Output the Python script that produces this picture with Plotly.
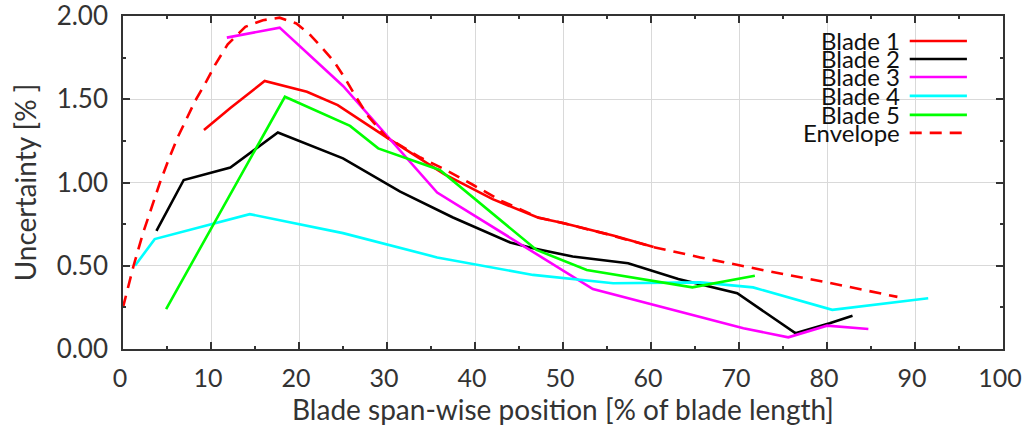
import plotly.graph_objects as go

# Uncertainty along the blade span for each blade, plus the envelope
blade1_x = [9.2, 12.2, 16.1, 20.9, 24.4, 30.0, 36.5, 42.0, 47.2, 50.0, 55.8, 60.3]
blade1_y = [1.315, 1.447, 1.61, 1.545, 1.465, 1.27, 1.05, 0.90, 0.788, 0.757, 0.68, 0.613]

blade2_x = [3.8, 6.9, 12.2, 17.6, 25.0, 31.5, 37.5, 44.0, 46.6, 51.1, 57.4, 63.1, 69.8, 76.4, 80.3, 82.9]
blade2_y = [0.71, 1.015, 1.09, 1.30, 1.145, 0.945, 0.79, 0.64, 0.605, 0.555, 0.515, 0.42, 0.335, 0.095, 0.155, 0.20]

blade3_x = [11.8, 17.8, 25.0, 30.5, 35.7, 53.4, 65.6, 70.5, 75.6, 80.0, 84.7]
blade3_y = [1.87, 1.93, 1.58, 1.25, 0.94, 0.36, 0.19, 0.125, 0.07, 0.14, 0.12]

blade4_x = [1.36, 3.6, 14.4, 25.0, 35.7, 46.6, 55.7, 65.6, 71.6, 80.6, 91.5]
blade4_y = [0.50, 0.66, 0.81, 0.696, 0.55, 0.445, 0.395, 0.40, 0.37, 0.235, 0.305]

blade5_x = [4.9, 18.4, 25.8, 29.0, 36.0, 47.0, 52.7, 64.7, 71.8]
blade5_y = [0.24, 1.515, 1.34, 1.205, 1.075, 0.595, 0.475, 0.37, 0.44]

env_x = [0, 1.2, 2.3, 3.3, 4.2, 5.2, 6.2, 7.2, 8.2, 9.5, 10.5, 11.9, 13.9, 15.9, 17.8,
         19.7, 21.2, 22.6, 24.0, 25.3, 26.4, 27.9, 30.0, 33.8, 36.5, 39.8, 43.0, 47.2, 50.0, 55.0,
         60.2, 65.6, 70.1, 75.0, 80.0, 85.0, 88.0]
env_y = [0.25, 0.50, 0.70, 0.86, 1.0, 1.14, 1.27, 1.38, 1.49, 1.61, 1.71, 1.83, 1.935, 1.975, 1.99,
         1.955, 1.89, 1.81, 1.725, 1.62, 1.52, 1.395, 1.27, 1.15, 1.08, 0.985, 0.89, 0.79, 0.756, 0.69,
         0.613, 0.55, 0.50, 0.45, 0.40, 0.345, 0.313]

series = [
    ("Blade 1", blade1_x, blade1_y, "#ff0000", "solid"),
    ("Blade 2", blade2_x, blade2_y, "#000000", "solid"),
    ("Blade 3", blade3_x, blade3_y, "#ff00ff", "solid"),
    ("Blade 4", blade4_x, blade4_y, "#00ffff", "solid"),
    ("Blade 5", blade5_x, blade5_y, "#00ff00", "solid"),
    ("Envelope", env_x, env_y, "#ff0000", "12px,8px"),
]

FONT = "Lato"
TXT = "#333333"

fig = go.Figure()
for name, xs, ys, color, dash in series:
    fig.add_trace(go.Scatter(x=xs, y=ys, mode="lines", name=name,
                             line=dict(color=color, width=2.6, dash=dash),
                             showlegend=False))

# Key drawn gnuplot-style: label on the left, line sample on the right
shapes = [dict(type="rect", xref="paper", yref="paper", x0=0.79, x1=0.97, y0=0.62, y1=0.955,
               fillcolor="white", line=dict(width=0), layer="between")]
annotations = []
row_y = [0.925, 0.871, 0.817, 0.760, 0.703, 0.649]
for (name, xs, ys, color, dash), yy in zip(series, row_y):
    annotations.append(dict(xref="paper", yref="paper", x=0.885, y=yy, text=name,
                            showarrow=False, xanchor="right", yanchor="middle",
                            font=dict(family=FONT, size=24, color="#111111")))
    shapes.append(dict(type="line", xref="paper", yref="paper", x0=0.894, x1=0.959,
                       y0=yy, y1=yy, line=dict(color=color, width=2.6, dash=dash),
                       layer="above"))

axis_common = dict(showline=True, linecolor="#333333", linewidth=1.5, mirror="ticks",
                   ticks="inside", ticklen=7, tickwidth=1.5, tickcolor="#333333",
                   showgrid=True, gridcolor="#d9d9d9", gridwidth=1, zeroline=False,
                   ticklabeloverflow="allow", automargin=False)

fig.update_layout(
    width=1022, height=434,
    margin=dict(l=123, r=19, t=16, b=85),
    plot_bgcolor="white", paper_bgcolor="white",
    shapes=shapes, annotations=annotations,
    xaxis=dict(range=[0, 100], dtick=10, tick0=0, ticklabelstandoff=6, ticklabelshift=-3,
               tickfont=dict(family=FONT, size=25, color=TXT),
               minor=dict(dtick=5, ticks="inside", ticklen=3, tickcolor="#333333", showgrid=False),
               title=dict(text="Blade span-wise position [% of blade length]",
                          font=dict(family=FONT, size=28, color=TXT), standoff=8),
               **axis_common),
    yaxis=dict(range=[0, 2], dtick=0.5, tick0=0, tickformat=".2f", ticklabelstandoff=8,
               tickfont=dict(family=FONT, size=26, color=TXT),
               minor=dict(dtick=0.25, ticks="inside", ticklen=3, tickcolor="#333333", showgrid=False),
               title=dict(text="Uncertainty [% ]",
                          font=dict(family=FONT, size=28, color=TXT), standoff=12),
               **axis_common),
)

fig.write_html("out.html")
